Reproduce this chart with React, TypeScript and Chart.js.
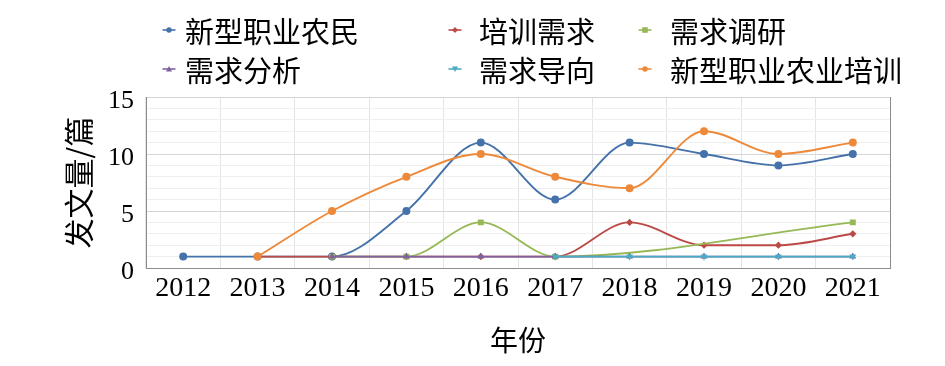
import React, { useEffect, useRef } from "react";
import { Chart, registerables } from "chart.js";

Chart.register(...registerables);

const years = ["2012", "2013", "2014", "2015", "2016", "2017", "2018", "2019", "2020", "2021"];
const seriesNames = ["新型职业农民", "培训需求", "需求调研", "需求分析", "需求导向", "新型职业农业培训"];
const xinxingNongmin = [1, 1, 1, 5, 11, 6, 11, 10, 9, 10];
const peixunXuqiu = [null, 1, 1, 1, 1, 1, 4, 2, 2, 3];
const xuqiuDiaoyan = [null, null, 1, 1, 4, 1, null, null, null, 4];
const xuqiuFenxi = [null, null, 1, 1, 1, 1, 1, 1, 1, 1];
const xuqiuDaoxiang = [null, null, null, null, null, 1, 1, 1, 1, 1];
const nongyePeixun = [null, 1, 5, 8, 10, 8, 7, 12, 10, 11];
const yTicks = [0, 5, 10, 15];

const colors = ["#4572aa", "#bb4a47", "#97b955", "#7e62a0", "#4aabc4", "#ee893a"];
const pointStyles = ["circle", "rectRot", "rect", "triangle", "triangle", "circle"];
const pointRotations = [0, 0, 0, 0, 180, 0];
const pointRadii = [4, 3.6, 4.2, 4, 4, 4];

const seriesData = [xinxingNongmin, peixunXuqiu, xuqiuDiaoyan, xuqiuFenxi, xuqiuDaoxiang, nongyePeixun];

const CJK = '"Noto Sans CJK SC", "Noto Sans", sans-serif';
const SERIF = '"Liberation Serif", "Times New Roman", serif';

const rightBorder = {
  id: "rightBorder",
  afterDraw(chart: any) {
    const { ctx, chartArea } = chart;
    ctx.save();
    ctx.strokeStyle = "#8c8c8c";
    ctx.lineWidth = 1;
    ctx.beginPath();
    ctx.moveTo(Math.round(chartArea.right) + 0.5, chartArea.top);
    ctx.lineTo(Math.round(chartArea.right) + 0.5, chartArea.bottom);
    ctx.stroke();
    ctx.restore();
  },
};

function Marker({ i }: { i: number }) {
  const c = colors[i];
  const s = pointStyles[i];
  let shape: any = null;
  if (s === "circle") shape = <circle cx={7} cy={7} r={2.7} fill={c} />;
  else if (s === "rectRot") shape = <polygon points="7,4 10,7 7,10 4,7" fill={c} />;
  else if (s === "rect") shape = <rect x={4.2} y={4.2} width={5.6} height={5.6} fill={c} />;
  else if (s === "triangle" && pointRotations[i] === 0) shape = <polygon points="7,4 10,9.5 4,9.5" fill={c} />;
  else shape = <polygon points="4,4.5 10,4.5 7,10" fill={c} />;
  return (
    <svg width={14} height={14} style={{ display: "block" }}>
      <line x1={0.5} y1={7} x2={13.5} y2={7} stroke={c} strokeWidth={1.6} />
      {shape}
    </svg>
  );
}

const legendPos = [
  { mx: 169, tx: 185, y: 30 },
  { mx: 455, tx: 479, y: 30 },
  { mx: 645, tx: 670, y: 30 },
  { mx: 169, tx: 185, y: 69 },
  { mx: 455, tx: 479, y: 69 },
  { mx: 645, tx: 670, y: 69 },
];

export default function App() {
  const ref = useRef<HTMLCanvasElement>(null);

  useEffect(() => {
    if (!ref.current) return;
    const chart = new Chart(ref.current, {
      type: "line",
      data: {
        labels: years,
        datasets: seriesData.map((d, i) => ({
          label: seriesNames[i],
          data: d,
          borderColor: colors[i],
          backgroundColor: colors[i],
          borderWidth: 1.9,
          cubicInterpolationMode: "monotone" as const,
          spanGaps: true,
          pointStyle: pointStyles[i] as any,
          pointRotation: pointRotations[i],
          pointRadius: pointRadii[i],
          pointBorderWidth: 0,
          fill: false,
          order: 10 - i,
        })),
      },
      options: {
        responsive: false,
        animation: false,
        layout: { padding: { top: 97, right: 55, bottom: 0, left: 0 } },
        plugins: {
          legend: { display: false },
          tooltip: { enabled: false },
        },
        scales: {
          x: {
            type: "category",
            offset: true,
            grid: { color: "#e4e4e4", drawTicks: false, offset: true },
            border: { display: true, color: "#8c8c8c", width: 1 },
            ticks: { color: "#000", font: { family: SERIF, size: 28 }, padding: 4, maxRotation: 0, autoSkip: false },
            title: { display: true, text: "年份", color: "#000", font: { family: CJK, size: 28 }, padding: { top: 0, bottom: 9 } },
            afterFit: (s: any) => { s.height = 98; },
          },
          y: {
            min: 0,
            max: 15,
            grid: {
              color: (ctx: any) => (ctx.tick && yTicks.includes(ctx.tick.value) ? "#d6d6d6" : "#efefef"),
              drawTicks: false,
            },
            border: { display: true, color: "#8c8c8c", width: 1 },
            ticks: {
              stepSize: 1,
              autoSkip: false,
              color: "#000",
              font: { family: SERIF, size: 26 },
              padding: 12,
              labelOffset: 4,
              callback: (v: any) => (yTicks.includes(Number(v)) ? String(v) : ""),
            },
            title: { display: true, text: "发文量/篇", color: "#000", font: { family: CJK, size: 30 }, padding: { top: 61, bottom: 0 } },
            afterFit: (s: any) => { s.width = 146; },
          },
        },
      },
      plugins: [rightBorder],
    });
    return () => chart.destroy();
  }, []);

  return (
    <div style={{ position: "absolute", left: 0, top: 0, width: 945, height: 366, background: "#fff" }}>
      <canvas ref={ref} width={945} height={366} style={{ position: "absolute", left: 0, top: 0 }} />
      {seriesNames.map((n, i) => (
        <React.Fragment key={n}>
          <div style={{ position: "absolute", left: legendPos[i].mx - 7, top: legendPos[i].y - 7 }}>
            <Marker i={i} />
          </div>
          <div
            style={{
              position: "absolute",
              left: legendPos[i].tx,
              top: legendPos[i].y - 20,
              height: 40,
              lineHeight: "40px",
              fontFamily: CJK,
              fontSize: 29,
              color: "#000",
              whiteSpace: "nowrap",
            }}
          >
            {n}
          </div>
        </React.Fragment>
      ))}
    </div>
  );
}
